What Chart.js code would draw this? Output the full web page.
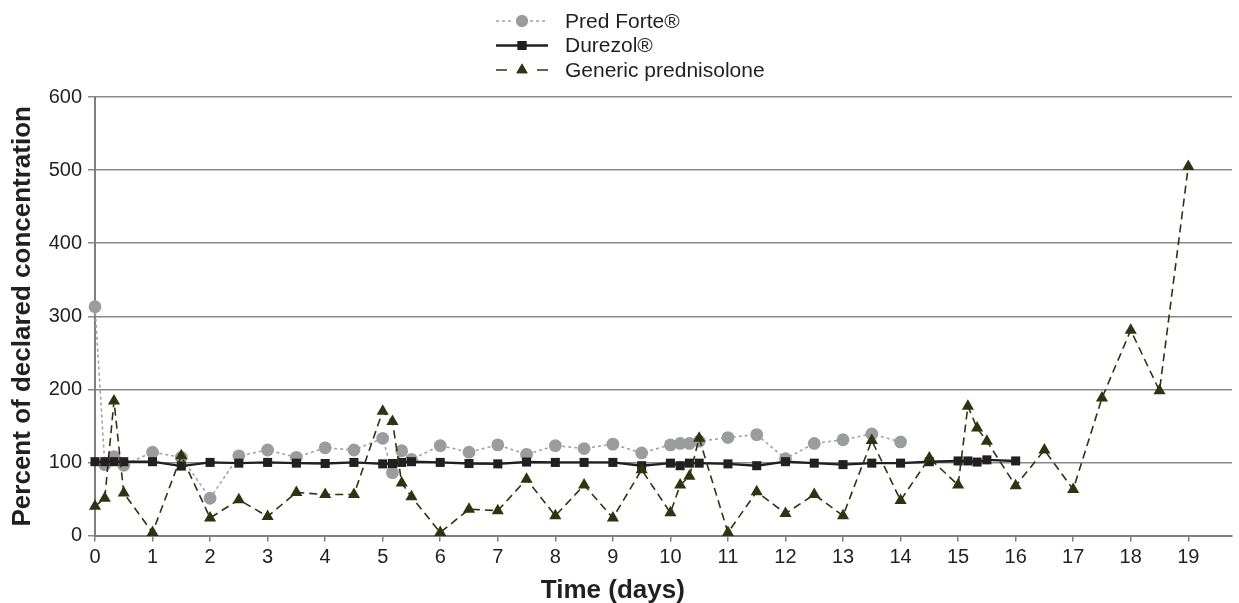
<!DOCTYPE html>
<html>
<head>
<meta charset="utf-8">
<script src="https://cdn.jsdelivr.net/npm/chart.js@4.4.0/dist/chart.umd.min.js"></script>
<style>
html,body{margin:0;padding:0;background:#fff;overflow:hidden}
#wrap{width:1239px;height:603px;position:relative}
</style>
</head>
<body>
<div id="wrap"><canvas id="c" width="1239" height="603"></canvas></div>
<script>
// ---- data ----
const seriesNames = ['Pred Forte\u00AE', 'Durezol\u00AE', 'Generic prednisolone'];
const xTitle = 'Time (days)';
const yTitle = 'Percent of declared concentration';

const predDays = [0, 0.17, 0.33, 0.5, 1, 1.5, 2, 2.5, 3, 3.5, 4, 4.5, 5, 5.17, 5.33, 5.5, 6, 6.5, 7, 7.5, 8, 8.5, 9, 9.5, 10, 10.17, 10.33, 10.5, 11, 11.5, 12, 12.5, 13, 13.5, 14];
const predValues = [313, 97, 108, 96, 114, 107, 51, 109, 117, 107, 120, 117, 133, 86, 116, 104, 123, 114, 124, 111, 123, 119, 125, 113, 124, 126, 126, 129, 134, 138, 105, 126, 131, 139, 128];

const durezolDays = [0, 0.17, 0.33, 0.5, 1, 1.5, 2, 2.5, 3, 3.5, 4, 4.5, 5, 5.17, 5.33, 5.5, 6, 6.5, 7, 7.5, 8, 8.5, 9, 9.5, 10, 10.17, 10.33, 10.5, 11, 11.5, 12, 12.5, 13, 13.5, 14, 14.5, 15, 15.17, 15.33, 15.5, 16];
const durezolValues = [101, 101, 101, 101, 101, 95, 100, 99, 100, 99, 98.5, 100, 98, 98.5, 100, 101, 100, 98.5, 98, 100.5, 100, 100, 100, 95.5, 99, 95.5, 99, 99, 98, 95.5, 101, 99, 97, 99, 99, 101, 102, 102, 100.5, 103.5, 102];

const genericDays = [0, 0.17, 0.33, 0.5, 1, 1.5, 2, 2.5, 3, 3.5, 4, 4.5, 5, 5.17, 5.33, 5.5, 6, 6.5, 7, 7.5, 8, 8.5, 9, 9.5, 10, 10.17, 10.33, 10.5, 11, 11.5, 12, 12.5, 13, 13.5, 14, 14.5, 15, 15.17, 15.33, 15.5, 16, 16.5, 17, 17.5, 18, 18.5, 19];
const genericValues = [40, 51, 184, 58, 4, 109, 24, 49, 26, 59, 56, 56, 170, 156, 72, 53, 4, 36, 34, 77, 27, 69, 24, 90, 31, 69, 81, 133, 4, 60, 30, 56, 27, 130, 48, 106, 69, 177, 147, 129, 68, 117, 63, 188, 281, 198, 505];

const xMin = 0, xMax = 19.76, xStep = 1;
const yMin = 0, yMax = 600, yStep = 100;

// ---- build ----
const FONT = "'Liberation Sans', Arial, Helvetica, sans-serif";
const TEXT = '#231f20';
const toPts = (xs, ys) => xs.map((x, i) => ({x: x, y: ys[i]}));

const styles = [
  {color: '#9b9c9e', line: '#a3a3a3', dash: [3, 3], width: 1.6, point: 'circle', r: 6.4, legendR: 6},
  {color: '#231f20', line: '#231f20', dash: [], width: 2.4, point: 'rect', r: 6.4, legendR: 6.3},
  {color: '#30330f', line: '#30330f', dash: [8, 5], width: 1.6, point: 'triangle', r: 7, legendR: 6.5}
];

const dataSets = [
  toPts(predDays, predValues),
  toPts(durezolDays, durezolValues),
  toPts(genericDays, genericValues)
];

const datasets = dataSets.map((d, i) => ({
  label: seriesNames[i],
  data: d,
  borderColor: styles[i].line,
  borderWidth: styles[i].width,
  borderDash: styles[i].dash,
  pointStyle: styles[i].point,
  pointRadius: styles[i].r,
  pointHoverRadius: styles[i].r,
  pointBackgroundColor: styles[i].color,
  pointBorderColor: styles[i].color,
  pointBorderWidth: 0,
  tension: 0,
  fill: false,
  clip: false,
  order: 2 - i
}));

const customLegend = {
  id: 'customLegend',
  afterDraw(chart) {
    const ctx = chart.ctx;
    const rowsY = [21, 45.5, 70];
    const x0 = 496, x1 = 548, xm = 522, tx = 565;
    ctx.save();
    styles.forEach((s, i) => {
      const y = rowsY[i];
      ctx.strokeStyle = s.line;
      ctx.lineWidth = s.width;
      ctx.setLineDash(s.dash);
      ctx.beginPath();
      if (i === 2) {
        ctx.setLineDash([]);
        ctx.moveTo(x0, y); ctx.lineTo(x0 + 11, y);
        ctx.moveTo(x1 - 11, y); ctx.lineTo(x1, y);
      } else if (i === 1) {
        ctx.moveTo(x0, y); ctx.lineTo(x1, y);
      } else {
        ctx.moveTo(x0, y); ctx.lineTo(xm - 8, y);
        ctx.moveTo(xm + 8, y); ctx.lineTo(x1, y);
      }
      ctx.stroke();
      ctx.setLineDash([]);
      ctx.fillStyle = s.color;
      Chart.helpers.drawPoint(ctx, {pointStyle: s.point, radius: s.legendR, rotation: 0, borderWidth: 0}, xm, y);
      ctx.fill();
      ctx.fillStyle = TEXT;
      ctx.font = '21px ' + FONT;
      ctx.textBaseline = 'middle';
      ctx.textAlign = 'left';
      ctx.fillText(seriesNames[i], tx, y + 1);
    });
    // x axis title
    ctx.font = 'bold 26px ' + FONT;
    ctx.textAlign = 'center';
    ctx.textBaseline = 'alphabetic';
    ctx.fillStyle = TEXT;
    ctx.fillText(xTitle, chart.scales.x.getPixelForValue(9), 598);
    ctx.restore();
  }
};

new Chart(document.getElementById('c'), {
  type: 'line',
  data: {datasets: datasets},
  plugins: [customLegend],
  options: {
    responsive: false,
    animation: false,
    devicePixelRatio: 1,
    layout: {padding: {top: 97, left: 0, right: 3, bottom: 0}},
    plugins: {legend: {display: false}, tooltip: {enabled: false}, title: {display: false}},
    scales: {
      x: {
        type: 'linear', min: xMin, max: xMax,
        afterFit(s) { s.height = 67.5; },
        ticks: {stepSize: xStep, includeBounds: false, autoSkip: false, maxRotation: 0,
                font: {family: FONT, size: 20}, color: TEXT, padding: 4},
        grid: {drawOnChartArea: false, drawTicks: true, tickLength: 6, color: '#7f7f7f', lineWidth: 1.5},
        border: {color: '#7f7f7f', width: 2}
      },
      y: {
        min: yMin, max: yMax,
        afterFit(s) { s.width = 95; },
        ticks: {stepSize: yStep, font: {family: FONT, size: 20}, color: TEXT, padding: 6},
        grid: {color: '#888888', lineWidth: 1.5, tickLength: 7},
        border: {color: '#7f7f7f', width: 2},
        title: {display: true, text: yTitle, color: TEXT,
                font: {family: FONT, size: 26, weight: 'bold', lineHeight: 1},
                padding: {top: 9.5, bottom: 0}}
      }
    }
  }
});
</script>
</body>
</html>
